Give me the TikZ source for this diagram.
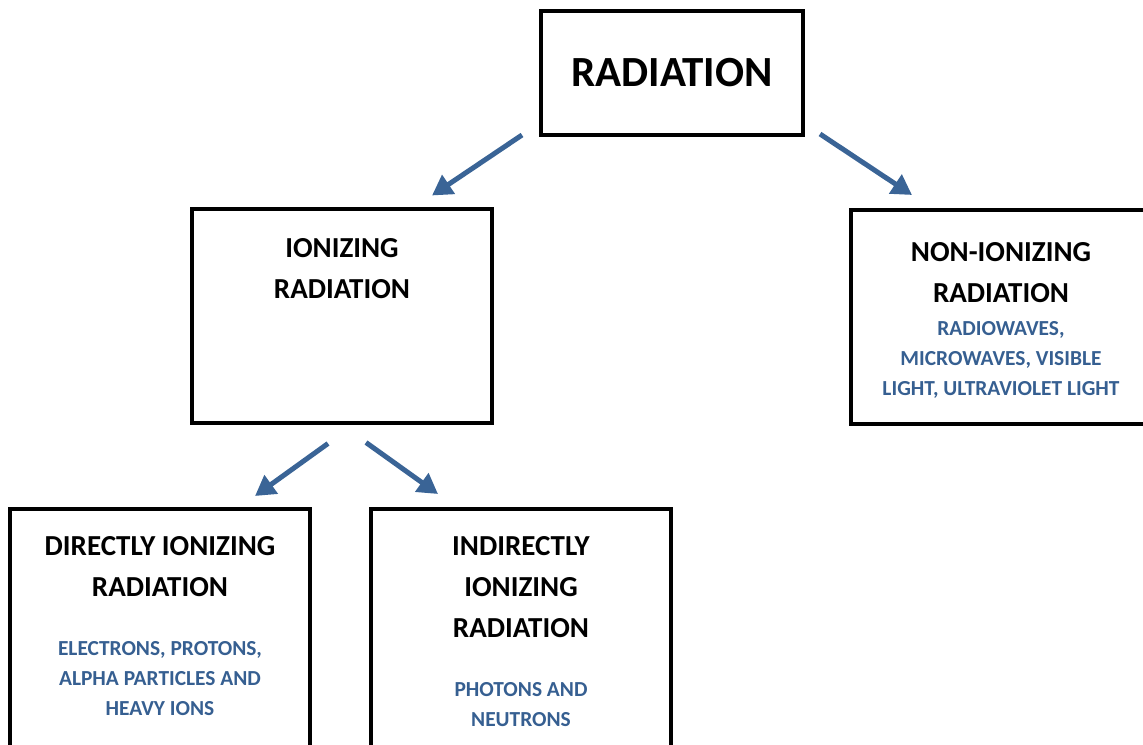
\documentclass[tikz,border=0pt]{standalone}
\usepackage{fontspec}
\setmainfont{Carlito}
\usetikzlibrary{arrows.meta, positioning}
\definecolor{arrowblue}{HTML}{3A6496}
\definecolor{textblue}{HTML}{365F91}
\tikzstyle{box} = [rectangle, draw=black, line width=2pt, inner sep=0pt, minimum width=150pt, minimum height=107pt]
\tikzstyle{title} = [align=center, inner sep=0pt, anchor=base, font=\fontsize{14.5}{20.5}\selectfont\bfseries]
\tikzstyle{examples} = [align=center, inner sep=0pt, anchor=base, text=textblue, font=\fontsize{10.7}{15}\selectfont\bfseries]
\tikzstyle{arrow} = [line width=2.5pt, draw=arrowblue, -{Triangle[length=10pt,width=11pt]}]

\begin{document}
\begin{tikzpicture}[x=0.5pt, y=-0.5pt]
	\useasboundingbox (0,0) rectangle (1143,744);
	\clip (0,0) rectangle (1143,744);

	% boxes
	\node (rad) [box, minimum width=131pt, minimum height=62pt, font=\fontsize{21.5}{26}\selectfont\bfseries] at (672,73) {RADIATION};
	\node (ion) [box] at (342,315.5) {};
	\node (nonion) [box] at (1001,317) {};
	\node (direct) [box, minimum height=130pt] at (160,639) {};
	\node (indirect) [box, minimum height=130pt] at (521,639) {};

	% texts (placed at the baseline of their last line)
	\node (ion-t) [title] at (342,298) {IONIZING\\RADIATION};
	\node (nonion-t) [title] at (1001,302) {NON-IONIZING\\RADIATION};
	\node (nonion-e) [examples] at (1001,395) {RADIOWAVES,\\MICROWAVES, VISIBLE\\LIGHT, ULTRAVIOLET LIGHT};
	\node (direct-t) [title] at (160,596) {DIRECTLY IONIZING\\RADIATION};
	\node (direct-e) [examples] at (160,715) {ELECTRONS, PROTONS,\\ALPHA PARTICLES AND\\HEAVY IONS};
	\node (indirect-t) [title] at (521,637) {INDIRECTLY\\IONIZING\\RADIATION};
	\node (indirect-e) [examples] at (521,726) {PHOTONS AND\\NEUTRONS};

	% arrows
	\draw [arrow] ([xshift=-8.5pt,yshift=1pt]rad.south west) -- ([xshift=45pt,yshift=5.5pt]ion.north);
	\draw [arrow] ([xshift=7.5pt,yshift=1.5pt]rad.south east) -- ([xshift=31.5pt,yshift=6.5pt]nonion.north west);
	\draw [arrow] ([xshift=-7pt,yshift=-9.5pt]ion.south) -- ([xshift=-28.5pt,yshift=5.5pt]direct.north east);
	\draw [arrow] ([xshift=12pt,yshift=-9pt]ion.south) -- ([xshift=34.5pt,yshift=6.5pt]indirect.north west);
\end{tikzpicture}
\end{document}
